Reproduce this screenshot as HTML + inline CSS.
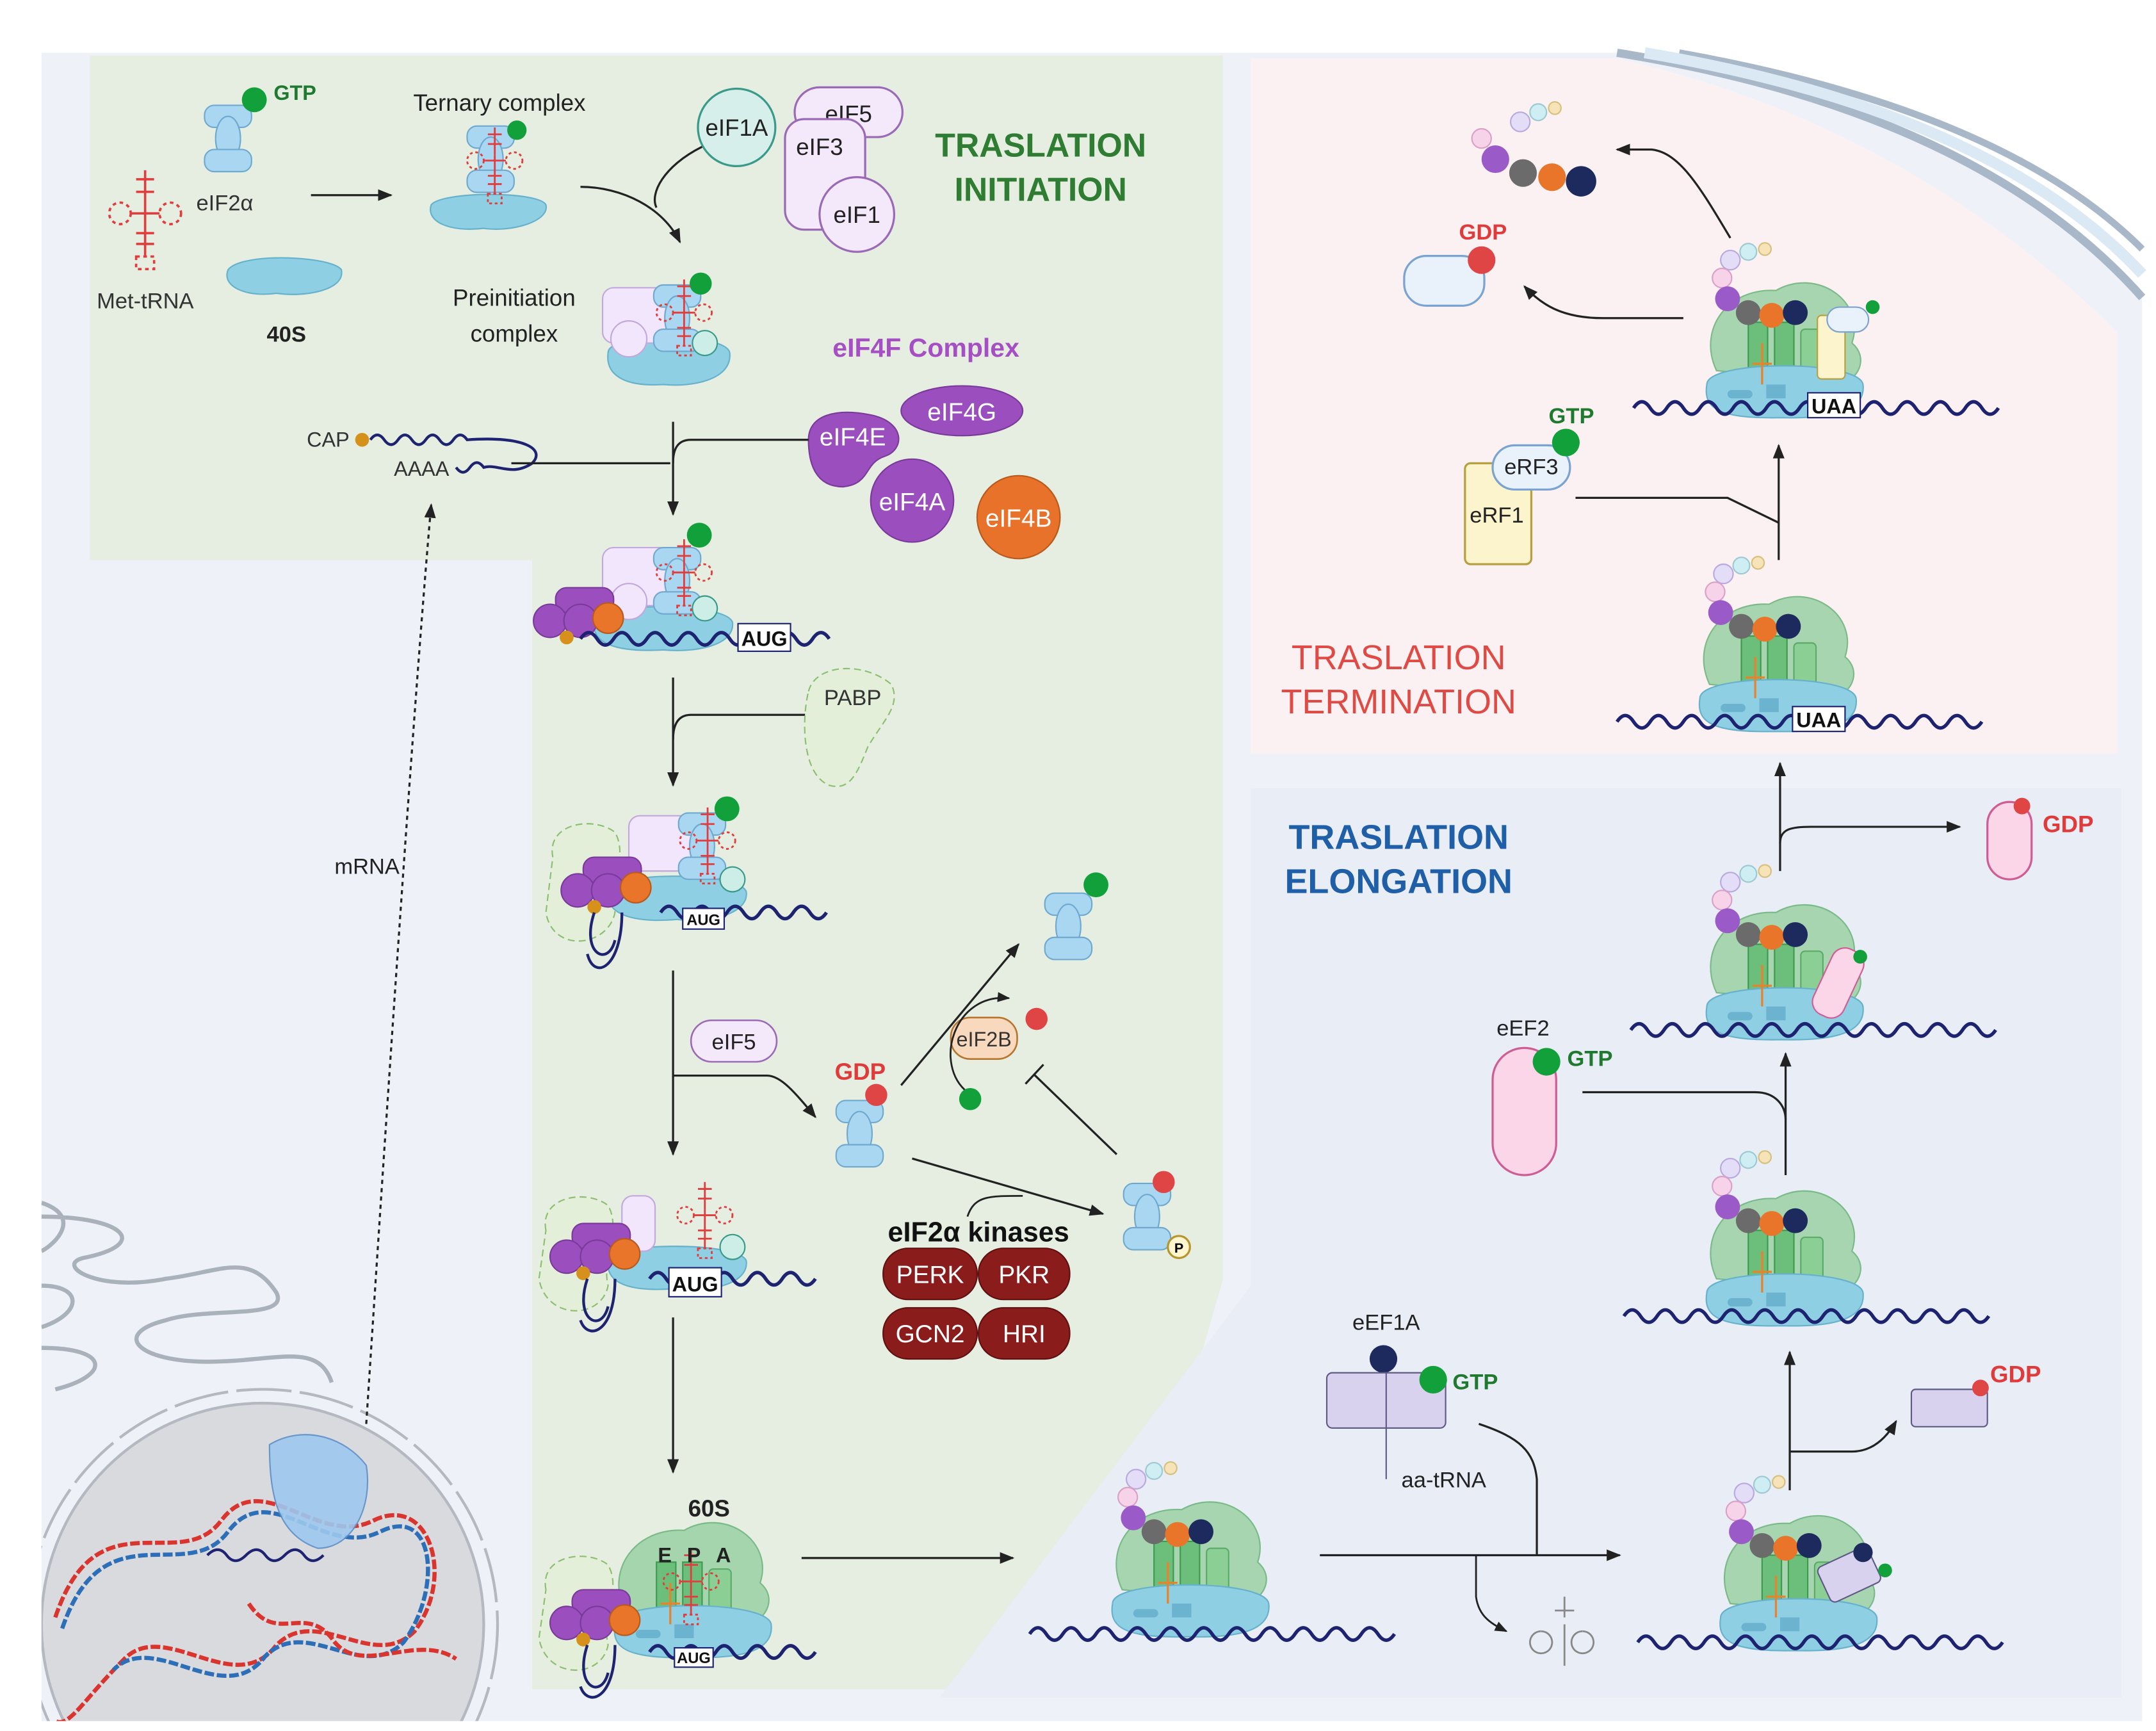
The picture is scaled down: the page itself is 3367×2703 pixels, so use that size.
<!DOCTYPE html>
<html><head><meta charset="utf-8"><style>
html,body{margin:0;padding:0;background:#fff;width:3367px;height:2703px;overflow:hidden;}
svg{display:block}
text{font-family:"Liberation Sans",sans-serif;}
</style></head><body>
<svg width="3367" height="2703" viewBox="0 0 1560 1252" xmlns="http://www.w3.org/2000/svg">
<defs>
<marker id="ar" viewBox="0 0 10 10" refX="9" refY="5" markerWidth="7" markerHeight="7" orient="auto"><path d="M0,1 L10,5 L0,9 Z" fill="#222"/></marker>
<path id="wave" d="M0,0 q6,-9 12,0 t12,0 t12,0 t12,0 t12,0 t12,0 t12,0 t12,0 t12,0 t12,0 t12,0 t12,0 t12,0 t12,0 t12,0 t12,0 t12,0 t12,0 t12,0 t12,0 t12,0 t12,0" fill="none" stroke="#1d2370" stroke-width="2.5"/>
<g id="r80">
 <path d="M-48,-20 C-62,-50 -40,-80 -5,-78 C25,-95 60,-70 50,-40 C62,-30 55,-15 45,-12 Z" fill="#9fd3a8" stroke="#6fb57d" opacity="0.9"/>
 <rect x="-25" y="-55" width="14" height="45" fill="#6cbf7a" stroke="#3f9a50"/>
 <rect x="-6" y="-55" width="14" height="45" fill="#6cbf7a" stroke="#3f9a50"/>
 <rect x="13" y="-50" width="16" height="40" rx="3" fill="#8ccf95" stroke="#5aaa68"/>
 <path d="M-55,-10 C-55,-28 55,-28 58,-10 C60,8 40,15 0,14 C-45,15 -58,8 -55,-10 Z" fill="#8ecfe3" stroke="#66b1cb"/>
 <rect x="-40" y="-6" width="18" height="6" rx="3" fill="#6bb3cf"/>
 <rect x="-12" y="-10" width="14" height="10" fill="#6bb3cf"/>
 <path d="M-15,-40 v30 M-22,-25 h14" stroke="#e8822c" stroke-width="1.5" fill="none"/>
</g>
<g id="chain">
 <circle cx="-38" cy="-100" r="7" fill="#e4ddf7" stroke="#b9a9de"/>
 <circle cx="-25" cy="-106" r="6" fill="#cfeef3" stroke="#9ccad3"/>
 <circle cx="-13" cy="-108" r="4.5" fill="#f6e4b8" stroke="#d7bf7c"/>
 <circle cx="-44" cy="-87" r="7" fill="#f7d3ea" stroke="#dba0c6"/>
 <circle cx="-40" cy="-72" r="9" fill="#9a5bc8"/>
 <circle cx="-25" cy="-62" r="9" fill="#6b6b6b"/>
 <circle cx="-8" cy="-60" r="9" fill="#e8752a"/>
 <circle cx="9" cy="-62" r="9" fill="#1d2a5e"/>
</g>
<g id="eif2">
 <rect x="-17" y="-24" width="34" height="16" rx="7" fill="#a9d6f0" stroke="#6fa9cf"/>
 <ellipse cx="0" cy="0" rx="9" ry="16" fill="#a9d6f0" stroke="#6fa9cf"/>
 <rect x="-17" y="8" width="34" height="16" rx="7" fill="#a9d6f0" stroke="#6fa9cf"/>
</g>
<g id="trna" stroke="#e23c3c" stroke-width="1.3" fill="none">
 <path d="M0,-30 v20 M-5,-25 h10 M-5,-18 h10"/>
 <circle cx="-14" cy="-6" r="6" stroke-dasharray="2 2"/><circle cx="14" cy="-6" r="6" stroke-dasharray="2 2"/>
 <path d="M-8,-6 h16 M0,-10 v28 M-5,5 h10 M-5,11 h10"/>
 <rect x="-5" y="18" width="10" height="7" stroke-dasharray="2 2"/>
</g>
<g id="cap4f">
 <rect x="-18" y="-20" width="42" height="18" rx="8" fill="#9b4fbf" stroke="#7a3a9a"/>
 <circle cx="-22" cy="4" r="12" fill="#9b4fbf" stroke="#7a3a9a"/>
 <circle cx="0" cy="4" r="12" fill="#9b4fbf" stroke="#7a3a9a"/>
 <circle cx="20" cy="2" r="11" fill="#e8752a" stroke="#b85a1c"/>
 <circle cx="-10" cy="16" r="5" fill="#d6901c"/>
</g>
<clipPath id="cellclip"><rect x="30" y="38" width="1520" height="1207"/></clipPath>
</defs>

<path d="M30,38 L1170,38 Q1430,80 1550,215 L1550,1245 L30,1245 Z" fill="#eef2f8"/>
<path d="M1170,38 Q1430,80 1550,215" fill="none" stroke="#a9b8c8" stroke-width="6"/>
<path d="M1215,38 Q1450,80 1550,180" fill="none" stroke="#a9b8c8" stroke-width="5"/>
<path d="M1190,38 Q1440,80 1550,198" fill="none" stroke="#dbe9f5" stroke-width="8"/>

<path d="M65,40 L885,40 L885,925 L800,1222 L385,1222 L385,405 L65,405 Z" fill="#e5eee1"/>
<path d="M905,42 L1170,42 Q1380,90 1532,240 L1532,545 L905,545 Z" fill="#fbf1f2"/>
<path d="M905,570 L1535,570 L1535,1228 L680,1228 L905,930 Z" fill="#e8edf6"/>

<g clip-path="url(#cellclip)" fill="none" stroke="#a9b1bb" stroke-width="3">
 <path d="M30,870 C60,880 40,900 30,905 M30,880 C90,880 110,900 60,910 C40,915 70,935 120,925 C160,920 180,905 200,935 C210,955 150,945 120,955 C80,965 100,985 150,985 C200,985 230,970 240,1000"/>
 <path d="M30,930 C60,930 60,950 30,960 M30,975 C80,975 80,995 40,1005"/>
 <circle cx="190" cy="1175" r="160" fill="#d9dade" stroke="#b4b9c1" stroke-width="2"/>
 <circle cx="190" cy="1175" r="170" stroke="#b4b9c1" stroke-width="2" stroke-dasharray="40 6"/>
 <path d="M40,1170 C70,1080 130,1140 160,1100 C190,1060 230,1120 270,1100 C310,1080 330,1140 300,1180 C270,1210 230,1160 200,1190 C170,1230 120,1170 90,1200 C60,1230 50,1250 40,1245" stroke="#d9352e" stroke-width="3" stroke-dasharray="7 2"/>
 <path d="M45,1178 C75,1090 135,1148 165,1108 C195,1068 235,1128 275,1108 C315,1088 320,1150 292,1188 C262,1218 222,1168 192,1198 C162,1238 112,1178 82,1208" stroke="#2c6fb8" stroke-width="3" stroke-dasharray="7 2"/>
 <path d="M180,1160 C200,1190 220,1160 240,1185 C260,1215 300,1180 330,1200" stroke="#d9352e" stroke-width="3" stroke-dasharray="7 2"/>
</g>
<path d="M195,1045 C220,1030 250,1040 265,1060 C270,1090 255,1120 230,1120 C200,1110 195,1080 195,1045 Z" fill="#9ec8ee" stroke="#5c8fc8" opacity="0.9"/>
<path d="M150,1125 q8,-8 14,0 t14,0 t14,0 t14,0 t14,0 t14,0" fill="none" stroke="#1d2370" stroke-width="2"/>
<path d="M265,1030 C280,800 300,500 312,365" fill="none" stroke="#222" stroke-width="1.5" stroke-dasharray="3 3" marker-end="url(#ar)"/>
<text x="242" y="632" font-size="16" fill="#222">mRNA</text>

<use href="#eif2" x="165" y="100"/>
<circle cx="184" cy="72" r="9" fill="#11a03a"/>
<text x="198" y="72" font-size="15" font-weight="bold" fill="#1f7a30">GTP</text>
<text x="142" y="152" font-size="16" fill="#333">eIF2α</text>
<use href="#trna" x="105" y="162" transform="translate(105,162) scale(1.3) translate(-105,-162)"/>
<text x="70" y="223" font-size="16" fill="#333">Met-tRNA</text>
<path d="M165,195 C175,182 240,185 247,195 C250,210 220,215 200,212 C180,215 160,208 165,195 Z" fill="#8ecfe3" stroke="#66b1cb"/>
<text x="193" y="247" font-size="16" font-weight="bold" fill="#222">40S</text>
<line x1="225" y1="141" x2="283" y2="141" stroke="#222" stroke-width="1.5" marker-end="url(#ar)"/>
<text x="299" y="80" font-size="17" fill="#222">Ternary complex</text>
<path d="M312,148 C320,138 390,138 395,148 C398,160 370,168 350,165 C325,168 308,160 312,148 Z" fill="#8ecfe3" stroke="#66b1cb"/>
<use href="#eif2" x="355" y="115"/><use href="#trna" x="358" y="122"/>
<circle cx="374" cy="94" r="7" fill="#11a03a"/>
<path d="M420,135 C450,135 480,150 492,175" fill="none" stroke="#222" stroke-width="1.5" marker-end="url(#ar)"/>
<path d="M508,106 C480,120 470,140 475,150" fill="none" stroke="#222" stroke-width="1.5"/>
<circle cx="533" cy="92" r="28" fill="#d7efea" stroke="#3a9a8a" stroke-width="1.5"/>
<text x="533" y="98" font-size="17" text-anchor="middle" fill="#222">eIF1A</text>
<rect x="575" y="63" width="78" height="36" rx="18" fill="#f3e9fb" stroke="#9b6ab7" stroke-width="1.5"/>
<text x="614" y="88" font-size="17" text-anchor="middle" fill="#222">eIF5</text>
<rect x="568" y="86" width="58" height="80" rx="14" fill="#f3e9fb" stroke="#9b6ab7" stroke-width="1.5"/>
<text x="576" y="112" font-size="17" fill="#222">eIF3</text>
<circle cx="620" cy="155" r="27" fill="#f3e9fb" stroke="#9b6ab7" stroke-width="1.5"/>
<text x="620" y="161" font-size="17" text-anchor="middle" fill="#222">eIF1</text>
<text x="753" y="113" font-size="24" font-weight="bold" fill="#2e7d32" text-anchor="middle">TRASLATION</text>
<text x="753" y="145" font-size="24" font-weight="bold" fill="#2e7d32" text-anchor="middle">INITIATION</text>
<text x="372" y="221" font-size="17" fill="#222" text-anchor="middle">Preinitiation</text>
<text x="372" y="247" font-size="17" fill="#222" text-anchor="middle">complex</text>
<path d="M440,255 C440,240 525,240 528,255 C530,275 500,280 480,278 C450,280 438,270 440,255 Z" fill="#8ecfe3" stroke="#66b1cb"/>
<rect x="436" y="208" width="50" height="40" rx="8" fill="#f1e6fb" stroke="#c2a8dc"/>
<circle cx="455" cy="245" r="13" fill="#f1e6fb" stroke="#c2a8dc"/>
<use href="#eif2" x="490" y="230"/><use href="#trna" x="495" y="232"/>
<circle cx="507" cy="205" r="8" fill="#11a03a"/>
<circle cx="510" cy="248" r="9" fill="#cdeee6" stroke="#3a9a8a"/>
<text x="670" y="258" font-size="19" font-weight="bold" fill="#a64fc5" text-anchor="middle">eIF4F Complex</text>
<ellipse cx="696" cy="297" rx="44" ry="18" fill="#9b4fbf" stroke="#7a3a9a"/>
<text x="696" y="304" font-size="18" fill="#fff" text-anchor="middle">eIF4G</text>
<path d="M585,318 C585,300 605,295 630,300 C655,305 655,325 640,330 C625,335 630,350 610,352 C590,352 585,335 585,318 Z" fill="#9b4fbf" stroke="#7a3a9a"/>
<text x="617" y="322" font-size="18" fill="#fff" text-anchor="middle">eIF4E</text>
<circle cx="660" cy="362" r="30" fill="#9b4fbf" stroke="#7a3a9a"/>
<text x="660" y="369" font-size="18" fill="#fff" text-anchor="middle">eIF4A</text>
<circle cx="737" cy="374" r="30" fill="#e8722a" stroke="#b85a1c"/>
<text x="737" y="381" font-size="18" fill="#fff" text-anchor="middle">eIF4B</text>
<text x="222" y="323" font-size="15" fill="#333">CAP</text>
<circle cx="262" cy="318" r="5" fill="#d6901c"/>
<path d="M268,318 q5,-7 10,0 t10,0 t10,0 t10,0 t10,0 t10,0 t10,0 C380,315 395,325 385,335 C370,345 360,335 350,338 q-5,-7 -10,0 t-10,0" fill="none" stroke="#1d2370" stroke-width="2"/>
<text x="285" y="344" font-size="15" fill="#333">AAAA</text>
<path d="M370,335 L485,335" stroke="#222" stroke-width="1.5"/>
<path d="M585,318 L500,318 C490,318 487,325 487,335" fill="none" stroke="#222" stroke-width="1.5"/>
<line x1="487" y1="305" x2="487" y2="372" stroke="#222" stroke-width="1.5" marker-end="url(#ar)"/>

<path d="M430,450 C430,435 525,435 530,450 C532,468 500,472 480,470 C445,472 428,465 430,450 Z" fill="#8ecfe3" stroke="#66b1cb"/>
<rect x="436" y="396" width="50" height="42" rx="8" fill="#f1e6fb" stroke="#c2a8dc"/>
<circle cx="455" cy="435" r="13" fill="#f1e6fb" stroke="#c2a8dc"/>
<use href="#eif2" x="490" y="420"/><use href="#trna" x="495" y="420"/>
<circle cx="506" cy="387" r="9" fill="#11a03a"/>
<circle cx="510" cy="440" r="9" fill="#cdeee6" stroke="#3a9a8a"/>
<use href="#cap4f" x="420" y="445"/>
<path d="M420,462 q6,-9 12,0 t12,0 t12,0 t12,0 t12,0 t12,0 t12,0 t12,0 t12,0 t12,0 t12,0 t12,0 t12,0 t12,0 t12,0" fill="none" stroke="#1d2370" stroke-width="2.5"/>
<rect x="534" y="451" width="38" height="20" fill="#fff" stroke="#1d2370"/>
<text x="553" y="467" font-size="15" font-weight="bold" text-anchor="middle" fill="#111">AUG</text>
<line x1="487" y1="490" x2="487" y2="568" stroke="#222" stroke-width="1.5" marker-end="url(#ar)"/>
<path d="M585,517 L500,517 C490,517 487,525 487,535" fill="none" stroke="#222" stroke-width="1.5"/>
<path d="M585,500 C590,480 625,478 645,495 C652,510 640,520 628,540 C620,560 615,572 600,568 C580,560 580,520 585,500 Z" fill="#e3efd8" stroke="#8cbf70" stroke-dasharray="5 3"/>
<text x="617" y="510" font-size="16" text-anchor="middle" fill="#333">PABP</text>

<path d="M400,620 C395,595 430,590 445,602 C455,620 440,640 445,660 C440,685 400,690 395,660 Z" fill="#e3efd8" stroke="#8cbf70" stroke-dasharray="5 3"/>
<path d="M440,645 C440,630 535,630 540,645 C542,662 510,668 490,665 C455,668 438,660 440,645 Z" fill="#8ecfe3" stroke="#66b1cb"/>
<rect x="455" y="590" width="50" height="40" rx="8" fill="#f1e6fb" stroke="#c2a8dc"/>
<use href="#eif2" x="508" y="612"/><use href="#trna" x="512" y="614"/>
<circle cx="526" cy="585" r="9" fill="#11a03a"/>
<circle cx="530" cy="636" r="9" fill="#cdeee6" stroke="#3a9a8a"/>
<use href="#cap4f" x="440" y="640"/>
<path d="M430,660 C420,690 440,700 445,680 M450,660 C450,700 430,710 425,690" fill="none" stroke="#1d2370" stroke-width="2"/>
<path d="M478,660 q6,-9 12,0 t12,0 t12,0 t12,0 t12,0 t12,0 t12,0 t12,0 t12,0 t12,0" fill="none" stroke="#1d2370" stroke-width="2.5"/>
<rect x="494" y="657" width="30" height="15" fill="#fff" stroke="#1d2370"/>
<text x="509" y="669" font-size="11" font-weight="bold" text-anchor="middle" fill="#111">AUG</text>
<line x1="487" y1="702" x2="487" y2="835" stroke="#222" stroke-width="1.5" marker-end="url(#ar)"/>
<rect x="500" y="738" width="62" height="30" rx="15" fill="#f3e9fb" stroke="#9b6ab7" stroke-width="1.2"/>
<text x="531" y="759" font-size="16" text-anchor="middle" fill="#222">eIF5</text>
<path d="M487,778 L555,778 C565,778 575,790 590,808" fill="none" stroke="#222" stroke-width="1.5" marker-end="url(#ar)"/>
<text x="604" y="781" font-size="17" font-weight="bold" fill="#e03a3a">GDP</text>
<use href="#eif2" x="622" y="820"/>
<circle cx="634" cy="792" r="8" fill="#e04545"/>
<line x1="652" y1="785" x2="737" y2="683" stroke="#222" stroke-width="1.5" marker-end="url(#ar)"/>
<use href="#eif2" x="773" y="670"/>
<circle cx="793" cy="640" r="9" fill="#11a03a"/>
<rect x="688" y="736" width="48" height="30" rx="14" fill="#f8d9bd" stroke="#b8742c" stroke-width="1.2"/>
<text x="712" y="757" font-size="15" text-anchor="middle" fill="#333">eIF2B</text>
<path d="M700,790 C675,770 690,718 730,722" fill="none" stroke="#222" stroke-width="1.3" marker-end="url(#ar)"/>
<circle cx="750" cy="737" r="8" fill="#e04545"/>
<circle cx="702" cy="795" r="8" fill="#11a03a"/>
<path d="M808,835 L748,777 M742,784 L755,770" stroke="#222" stroke-width="1.5"/>
<line x1="660" y1="838" x2="798" y2="878" stroke="#222" stroke-width="1.5" marker-end="url(#ar)"/>
<path d="M700,880 C705,865 715,865 740,865" fill="none" stroke="#222" stroke-width="1.3"/>
<use href="#eif2" x="830" y="880"/>
<circle cx="842" cy="855" r="8" fill="#e04545"/>
<circle cx="853" cy="902" r="8" fill="#fff6d0" stroke="#b8942c" stroke-width="1.5"/>
<text x="853" y="906" font-size="10" font-weight="bold" text-anchor="middle">P</text>
<text x="708" y="898" font-size="20" font-weight="bold" text-anchor="middle" fill="#111">eIF2α kinases</text>
<g font-size="18" fill="#fff" text-anchor="middle">
<rect x="639" y="903" width="68" height="37" rx="18" fill="#8b1c1c" stroke="#5e1010"/><text x="673" y="928">PERK</text>
<rect x="708" y="903" width="66" height="37" rx="18" fill="#8b1c1c" stroke="#5e1010"/><text x="741" y="928">PKR</text>
<rect x="639" y="946" width="68" height="37" rx="18" fill="#8b1c1c" stroke="#5e1010"/><text x="673" y="971">GCN2</text>
<rect x="708" y="946" width="66" height="37" rx="18" fill="#8b1c1c" stroke="#5e1010"/><text x="741" y="971">HRI</text>
</g>

<path d="M395,890 C390,865 425,860 440,872 C450,890 435,910 440,930 C435,955 395,955 390,925 Z" fill="#e3efd8" stroke="#8cbf70" stroke-dasharray="5 3"/>
<path d="M440,912 C440,898 535,898 540,912 C542,930 510,935 490,932 C455,935 438,928 440,912 Z" fill="#8ecfe3" stroke="#66b1cb"/>
<rect x="450" y="865" width="24" height="40" rx="8" fill="#f1e6fb" stroke="#c2a8dc"/>
<use href="#trna" x="510" y="885"/>
<circle cx="530" cy="902" r="9" fill="#cdeee6" stroke="#3a9a8a"/>
<use href="#cap4f" x="432" y="905"/>
<path d="M425,925 C415,955 435,965 440,945 M445,925 C445,965 425,970 420,955" fill="none" stroke="#1d2370" stroke-width="2"/>
<path d="M470,925 q6,-9 12,0 t12,0 t12,0 t12,0 t12,0 t12,0 t12,0 t12,0 t12,0 t12,0" fill="none" stroke="#1d2370" stroke-width="2.5"/>
<rect x="484" y="917" width="38" height="21" fill="#fff" stroke="#1d2370"/>
<text x="503" y="934" font-size="15" font-weight="bold" text-anchor="middle" fill="#111">AUG</text>
<line x1="487" y1="953" x2="487" y2="1065" stroke="#222" stroke-width="1.5" marker-end="url(#ar)"/>

<text x="513" y="1097" font-size="17" font-weight="bold" text-anchor="middle" fill="#222">60S</text>
<path d="M395,1150 C390,1125 425,1120 440,1132 C450,1150 435,1170 440,1190 C435,1215 395,1215 390,1185 Z" fill="#e3efd8" stroke="#8cbf70" stroke-dasharray="5 3"/>
<use href="#r80" x="500" y="1185"/>
<use href="#trna" x="500" y="1150"/>
<text x="476" y="1130" font-size="15" font-weight="bold" fill="#222">E</text>
<text x="497" y="1130" font-size="15" font-weight="bold" fill="#222">P</text>
<text x="518" y="1130" font-size="15" font-weight="bold" fill="#222">A</text>
<use href="#cap4f" x="432" y="1170"/>
<path d="M425,1190 C415,1220 435,1230 440,1210 M445,1190 C445,1230 425,1235 420,1220" fill="none" stroke="#1d2370" stroke-width="2"/>
<path d="M470,1195 q6,-9 12,0 t12,0 t12,0 t12,0 t12,0 t12,0 t12,0 t12,0 t12,0 t12,0" fill="none" stroke="#1d2370" stroke-width="2.5"/>
<rect x="488" y="1192" width="28" height="14" fill="#fff" stroke="#1d2370"/>
<text x="502" y="1203" font-size="11" font-weight="bold" text-anchor="middle" fill="#111">AUG</text>
<line x1="580" y1="1127" x2="733" y2="1127" stroke="#222" stroke-width="1.5" marker-end="url(#ar)"/>

<text x="1012" y="614" font-size="25" font-weight="bold" fill="#1f5fa8" text-anchor="middle">TRASLATION</text>
<text x="1012" y="646" font-size="25" font-weight="bold" fill="#1f5fa8" text-anchor="middle">ELONGATION</text>
<use href="#r80" x="860" y="1170"/><use href="#chain" x="860" y="1170"/>
<use href="#wave" x="745" y="1182"/>
<line x1="955" y1="1125" x2="1172" y2="1125" stroke="#222" stroke-width="1.5" marker-end="url(#ar)"/>
<path d="M1068,1125 L1068,1155 C1070,1170 1080,1175 1090,1180" fill="none" stroke="#222" stroke-width="1.3" marker-end="url(#ar)"/>
<path d="M1132,1155 v15 M1125,1165 h14 M1115,1180 a8,8 0 1 0 0.1,0 M1145,1180 a8,8 0 1 0 0.1,0 M1132,1175 v30" fill="none" stroke="#888" stroke-width="1.3"/>
<path d="M1070,1030 C1100,1040 1110,1050 1112,1070 L1112,1125" fill="none" stroke="#222" stroke-width="1.5"/>
<text x="1003" y="962" font-size="16" text-anchor="middle" fill="#222">eEF1A</text>
<circle cx="1001" cy="983" r="10" fill="#1d2a5e"/>
<rect x="960" y="993" width="86" height="40" rx="4" fill="#d8d2ee" stroke="#5e5a86"/>
<line x1="1003" y1="993" x2="1003" y2="1070" stroke="#5e5a86"/>
<circle cx="1037" cy="998" r="10" fill="#11a03a"/>
<text x="1051" y="1005" font-size="16" font-weight="bold" fill="#1f7a30">GTP</text>
<text x="1014" y="1076" font-size="16" fill="#222">aa-tRNA</text>
<use href="#r80" x="1300" y="1180"/><use href="#chain" x="1300" y="1180"/>
<rect x="1318" y="1125" width="40" height="28" rx="4" transform="rotate(-25 1338 1139)" fill="#d8d2ee" stroke="#5e5a86"/>
<circle cx="1348" cy="1123" r="7" fill="#1d2a5e"/><circle cx="1364" cy="1136" r="5" fill="#11a03a"/>
<use href="#wave" x="1185" y="1188"/>
<line x1="1295" y1="1078" x2="1295" y2="978" stroke="#222" stroke-width="1.5" marker-end="url(#ar)"/>
<path d="M1295,1050 L1340,1050 C1355,1050 1365,1040 1372,1028" fill="none" stroke="#222" stroke-width="1.5" marker-end="url(#ar)"/>
<rect x="1383" y="1005" width="55" height="27" rx="3" fill="#d8d2ee" stroke="#5e5a86"/>
<circle cx="1433" cy="1004" r="6" fill="#e04545"/>
<text x="1440" y="1000" font-size="17" font-weight="bold" fill="#e03a3a">GDP</text>
<use href="#r80" x="1290" y="945"/><use href="#chain" x="1290" y="945"/>
<use href="#wave" x="1175" y="952"/>
<line x1="1292" y1="850" x2="1292" y2="762" stroke="#222" stroke-width="1.5" marker-end="url(#ar)"/>
<path d="M1145,790 L1270,790 C1285,790 1292,800 1292,810" fill="none" stroke="#222" stroke-width="1.5"/>
<text x="1102" y="749" font-size="16" text-anchor="middle" fill="#222">eEF2</text>
<rect x="1080" y="758" width="46" height="92" rx="23" fill="#fbd5e8" stroke="#cf5d93" stroke-width="1.5"/>
<circle cx="1119" cy="768" r="10" fill="#11a03a"/>
<text x="1134" y="771" font-size="16" font-weight="bold" fill="#1f7a30">GTP</text>
<use href="#r80" x="1290" y="738"/><use href="#chain" x="1290" y="738"/>
<rect x="1318" y="685" width="24" height="52" rx="10" transform="rotate(25 1330 711)" fill="#fbd5e8" stroke="#cf5d93"/>
<circle cx="1346" cy="692" r="5" fill="#11a03a"/>
<use href="#wave" x="1180" y="745"/>
<line x1="1288" y1="630" x2="1288" y2="552" stroke="#222" stroke-width="1.5" marker-end="url(#ar)"/>
<path d="M1288,610 C1288,600 1295,598 1310,598 L1418,598" fill="none" stroke="#222" stroke-width="1.5" marker-end="url(#ar)"/>
<rect x="1438" y="580" width="32" height="56" rx="16" fill="#fbd5e8" stroke="#cf5d93" stroke-width="1.5"/>
<circle cx="1463" cy="583" r="6" fill="#e04545"/>
<text x="1478" y="602" font-size="17" font-weight="bold" fill="#e03a3a">GDP</text>

<text x="1012" y="484" font-size="25" fill="#df4a44" text-anchor="middle">TRASLATION</text>
<text x="1012" y="516" font-size="25" fill="#df4a44" text-anchor="middle">TERMINATION</text>
<use href="#r80" x="1285" y="515"/><use href="#chain" x="1285" y="515"/>
<use href="#wave" x="1170" y="522"/>
<rect x="1297" y="511" width="38" height="18" fill="#fff" stroke="#1d2370"/>
<text x="1316" y="526" font-size="15" font-weight="bold" text-anchor="middle" fill="#111">UAA</text>
<line x1="1287" y1="405" x2="1287" y2="322" stroke="#222" stroke-width="1.5" marker-end="url(#ar)"/>
<path d="M1140,360 L1250,360 L1287,378" fill="none" stroke="#222" stroke-width="1.5"/>
<rect x="1060" y="335" width="48" height="73" rx="4" fill="#fbf4cc" stroke="#b8a040" stroke-width="1.5"/>
<text x="1083" y="378" font-size="16" text-anchor="middle" fill="#222">eRF1</text>
<rect x="1080" y="322" width="56" height="32" rx="16" fill="#e9f1fb" stroke="#7aa3d2" stroke-width="1.5"/>
<text x="1108" y="343" font-size="16" text-anchor="middle" fill="#222">eRF3</text>
<circle cx="1133" cy="320" r="10" fill="#11a03a"/>
<text x="1137" y="306" font-size="16" font-weight="bold" fill="#1f7a30" text-anchor="middle">GTP</text>
<use href="#r80" x="1290" y="288"/><use href="#chain" x="1290" y="288"/>
<rect x="1315" y="228" width="20" height="46" rx="3" fill="#fbf4cc" stroke="#b8a040"/>
<rect x="1322" y="222" width="30" height="18" rx="9" fill="#e9f1fb" stroke="#7aa3d2"/>
<circle cx="1355" cy="222" r="5" fill="#11a03a"/>
<use href="#wave" x="1182" y="295"/>
<rect x="1308" y="284" width="38" height="18" fill="#fff" stroke="#1d2370"/>
<text x="1327" y="299" font-size="15" font-weight="bold" text-anchor="middle" fill="#111">UAA</text>
<path d="M1218,230 L1160,230 C1130,230 1115,220 1103,207" fill="none" stroke="#222" stroke-width="1.5" marker-end="url(#ar)"/>
<path d="M1252,172 C1230,135 1215,110 1195,108 L1170,108" fill="none" stroke="#222" stroke-width="1.5" marker-end="url(#ar)"/>
<rect x="1016" y="185" width="58" height="36" rx="16" fill="#e9f1fb" stroke="#7aa3d2" stroke-width="1.5"/>
<circle cx="1072" cy="188" r="10" fill="#e04545"/>
<text x="1073" y="173" font-size="16" font-weight="bold" fill="#e03a3a" text-anchor="middle">GDP</text>
<g>
 <circle cx="1100" cy="88" r="7" fill="#e4ddf7" stroke="#b9a9de"/>
 <circle cx="1113" cy="81" r="6" fill="#cfeef3" stroke="#9ccad3"/>
 <circle cx="1125" cy="78" r="4.5" fill="#f6e4b8" stroke="#d7bf7c"/>
 <circle cx="1072" cy="100" r="7" fill="#f7d3ea" stroke="#dba0c6"/>
 <circle cx="1082" cy="115" r="10" fill="#9a5bc8"/>
 <circle cx="1102" cy="125" r="10" fill="#6b6b6b"/>
 <circle cx="1123" cy="128" r="10" fill="#e8752a"/>
 <circle cx="1144" cy="131" r="11" fill="#1d2a5e"/>
</g>
</svg>
</body></html>
